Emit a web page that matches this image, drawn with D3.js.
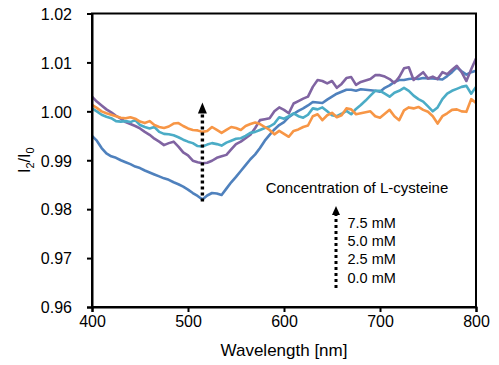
<!DOCTYPE html>
<html>
<head>
<meta charset="utf-8">
<script src="https://cdn.jsdelivr.net/npm/d3@7"></script>
<style>
  html, body { margin: 0; padding: 0; background: #fff; }
  svg { display: block; font-family: "Liberation Sans", Arial, sans-serif; }
</style>
</head>
<body>
<svg id="chart" width="499" height="365"></svg>
<script>
// ---------- data ----------
const wavelengths = d3.range(400, 801, 5); // nm, 5 nm steps
const xTicks = [400, 500, 600, 700, 800];
const yTicks = [0.96, 0.97, 0.98, 0.99, 1.00, 1.01, 1.02];
const concentrations = ["0.0 mM", "2.5 mM", "5.0 mM", "7.5 mM"];
const legendLabels = ["7.5 mM", "5.0 mM", "2.5 mM", "0.0 mM"];
const legendTitle = "Concentration of L-cysteine";
const xTitle = "Wavelength [nm]";
const colors = ["#4F81BD", "#8064A2", "#4BACC6", "#F79646"];

const conc00 = [
  0.9950,0.9940,0.9925,0.9914,0.9908,0.9905,0.9900,0.9896,0.9892,0.9887,
  0.9884,0.9879,0.9875,0.9871,0.9867,0.9863,0.9860,0.9855,0.9851,0.9846,
  0.9840,0.9833,0.9827,0.9820,0.9828,0.9833,0.9832,0.9829,0.9842,0.9855,
  0.9866,0.9878,0.9890,0.9902,0.9912,0.9925,0.9940,0.9952,0.9963,0.9972,
  0.9978,0.9988,0.9995,1.0001,1.0006,1.0012,1.0019,1.0018,1.0017,1.0024,
  1.0030,1.0036,1.0040,1.0044,1.0044,1.0042,1.0045,1.0044,1.0043,1.0042,
  1.0040,1.0048,1.0053,1.0060,1.0064,1.0064,1.0066,1.0067,1.0066,1.0068,
  1.0067,1.0067,1.0066,1.0065,1.0072,1.0080,1.0090,1.0082,1.0075,1.0080,
  1.0083
];
const conc25 = [
  1.0030,1.0020,1.0012,1.0004,0.9998,0.9991,0.9985,0.9978,0.9974,0.9970,
  0.9965,0.9958,0.9952,0.9944,0.9938,0.9931,0.9935,0.9938,0.9928,0.9916,
  0.9910,0.9899,0.9896,0.9894,0.9895,0.9899,0.9905,0.9908,0.9911,0.9922,
  0.9933,0.9938,0.9945,0.9952,0.9966,0.9982,0.9984,0.9986,1.0000,1.0008,
  1.0003,0.9996,1.0016,1.0021,1.0026,1.0030,1.0050,1.0064,1.0062,1.0057,
  1.0062,1.0048,1.0056,1.0068,1.0070,1.0054,1.0060,1.0063,1.0066,1.0074,
  1.0074,1.0071,1.0066,1.0058,1.0070,1.0088,1.0090,1.0064,1.0072,1.0080,
  1.0067,1.0071,1.0066,1.0080,1.0076,1.0085,1.0093,1.0080,1.0062,1.0086,
  1.0108
];
const conc50 = [
  1.0006,1.0000,0.9993,0.9989,0.9986,0.9980,0.9979,0.9980,0.9978,0.9982,
  0.9972,0.9968,0.9965,0.9968,0.9958,0.9954,0.9953,0.9951,0.9947,0.9942,
  0.9938,0.9935,0.9929,0.9928,0.9932,0.9935,0.9933,0.9930,0.9936,0.9940,
  0.9944,0.9945,0.9950,0.9956,0.9958,0.9962,0.9966,0.9969,0.9975,0.9988,
  0.9985,0.9990,0.9996,0.9990,0.9987,0.9993,1.0006,1.0004,1.0008,1.0000,
  0.9992,0.9990,0.9995,1.0001,0.9994,1.0005,1.0013,1.0022,1.0032,1.0042,
  1.0042,1.0036,1.0030,1.0038,1.0042,1.0048,1.0042,1.0032,1.0025,1.0020,
  1.0010,1.0000,1.0008,1.0025,1.0036,1.0042,1.0046,1.0050,1.0052,1.0036,
  1.0050
];
const conc75 = [
  1.0013,1.0007,1.0000,0.9996,0.9993,0.9990,0.9987,0.9986,0.9988,0.9985,
  0.9979,0.9976,0.9980,0.9972,0.9968,0.9966,0.9969,0.9975,0.9976,0.9970,
  0.9965,0.9962,0.9961,0.9958,0.9960,0.9968,0.9962,0.9956,0.9962,0.9968,
  0.9966,0.9962,0.9970,0.9974,0.9977,0.9974,0.9968,0.9962,0.9953,0.9960,
  0.9954,0.9948,0.9960,0.9963,0.9968,0.9971,0.9990,0.9994,0.9982,0.9992,
  0.9997,0.9988,0.9992,1.0006,1.0004,0.9994,0.9996,0.9998,1.0000,0.9990,
  0.9987,0.9995,1.0003,0.9990,0.9982,1.0002,1.0008,1.0006,1.0009,1.0003,
  0.9999,0.9990,0.9975,0.9990,0.9996,1.0003,1.0004,1.0000,0.9999,1.0025,
  1.0017
];
const seriesValues = [conc00, conc25, conc50, conc75];

// annotation arrow (in data units)
const arrowWavelength = 515;
const arrowFrom = 0.9820;
const arrowTo = 1.0018;

// ---------- layout ----------
const W = 499, H = 365;
const margin = { left: 92, right: 23, top: 13.5, bottom: 58 };
const svg = d3.select("#chart");
const x = d3.scaleLinear().domain([400, 800]).range([margin.left, W - margin.right]);
const y = d3.scaleLinear().domain([0.96, 1.02]).range([H - margin.bottom, margin.top]);

// series lines
const line = d3.line().x((d, i) => x(wavelengths[i])).y(d => y(d));
const gLines = svg.append("g");
seriesValues.forEach((vals, k) => {
  gLines.append("path")
    .datum(vals)
    .attr("d", line)
    .attr("fill", "none")
    .attr("stroke", colors[k])
    .attr("stroke-width", 2.6)
    .attr("stroke-linejoin", "round");
});

// frame
svg.append("rect")
  .attr("x", x(400)).attr("y", y(1.02))
  .attr("width", x(800) - x(400)).attr("height", y(0.96) - y(1.02))
  .attr("fill", "none").attr("stroke", "#000").attr("stroke-width", 2);

// axes
const xAxis = d3.axisBottom(x).tickValues(xTicks).tickSize(5).tickPadding(4).tickFormat(d3.format("d"));
const gx = svg.append("g").attr("transform", `translate(0,${y(0.96)})`).call(xAxis);
const yAxis = d3.axisLeft(y).tickValues(yTicks).tickSize(5).tickPadding(15).tickFormat(d3.format(".2f"));
const gy = svg.append("g").attr("transform", `translate(${x(400)},0)`).call(yAxis);
[gx, gy].forEach(g => {
  g.select(".domain").attr("stroke", "#000").attr("stroke-width", 2);
  g.selectAll(".tick line").attr("stroke", "#000").attr("stroke-width", 2);
  g.selectAll(".tick text").attr("fill", "#000").style("font-size", "16px")
    .style("font-family", '"Liberation Sans", Arial, sans-serif');
});
gy.selectAll(".tick text").attr("dy", "0.36em");

// x title
svg.append("text")
  .attr("x", (x(400) + x(800)) / 2).attr("y", 356)
  .attr("text-anchor", "middle").style("font-size", "17px").attr("fill", "#000")
  .text(xTitle);

// y title I2/I0
const yt = svg.append("text")
  .attr("transform", `translate(30,${(y(0.96) + y(1.02)) / 2}) rotate(-90)`)
  .attr("text-anchor", "middle").style("font-size", "16px").attr("fill", "#000");
yt.append("tspan").text("I");
yt.append("tspan").attr("dy", 4).style("font-size", "11px").text("2");
yt.append("tspan").attr("dy", -4).text("/I");
yt.append("tspan").attr("dy", 4).style("font-size", "11px").text("0");

// dotted arrow helper
function dottedArrow(xp, yBottom, yTip, headW, headH, sw) {
  svg.append("line")
    .attr("x1", xp).attr("x2", xp)
    .attr("y1", yBottom).attr("y2", yTip + headH - 1)
    .attr("stroke", "#000").attr("stroke-width", sw)
    .attr("stroke-dasharray", "3,3");
  svg.append("path")
    .attr("d", `M${xp},${yTip} L${xp - headW / 2},${yTip + headH} L${xp + headW / 2},${yTip + headH} Z`)
    .attr("fill", "#000");
}

// arrow inside plot
dottedArrow(x(arrowWavelength), y(arrowFrom) + 2, y(arrowTo), 9, 11, 3.4);

// legend
svg.append("text")
  .attr("x", 357).attr("y", 192.5)
  .attr("text-anchor", "middle").style("font-size", "15px").attr("fill", "#000")
  .text(legendTitle);
dottedArrow(336, 288, 206, 8, 9, 3);
legendLabels.forEach((lab, i) => {
  svg.append("text")
    .attr("x", 347.5).attr("y", 228 + i * 18.2)
    .style("font-size", "14.5px").attr("fill", "#000")
    .text(lab);
});
</script>
</body>
</html>
